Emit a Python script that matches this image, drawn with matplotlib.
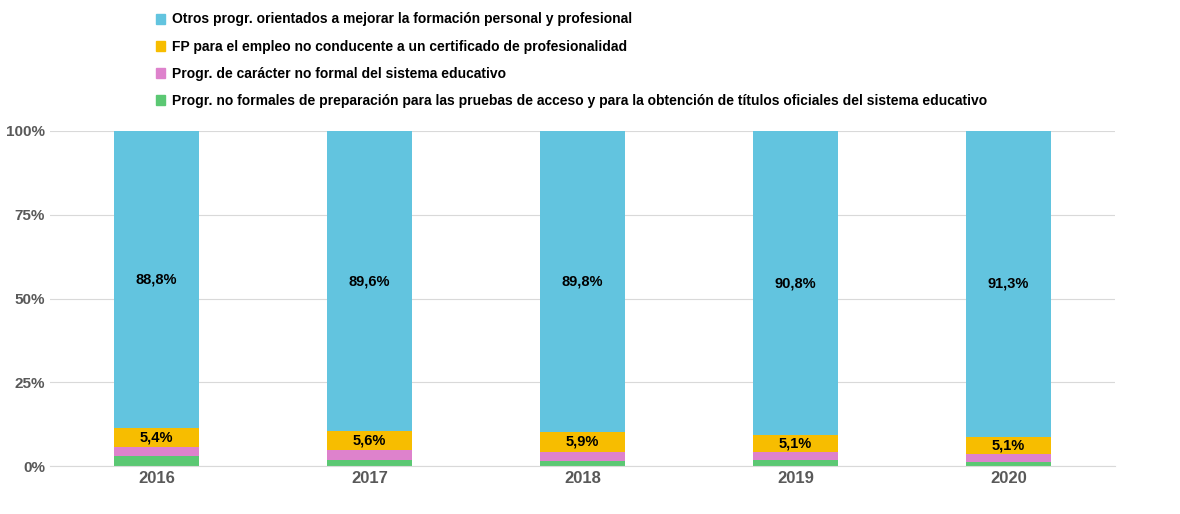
import matplotlib
matplotlib.use("Agg")
import matplotlib.pyplot as plt
import numpy as np
from matplotlib.patches import Patch

plt.rcParams["font.family"] = ["Liberation Sans", "DejaVu Sans"]

years = ["2016", "2017", "2018", "2019", "2020"]
green = [2.9, 1.9, 1.6, 1.8, 1.1]
pink = [2.9, 2.9, 2.7, 2.3, 2.5]
yellow = [5.4, 5.6, 5.9, 5.1, 5.1]
blue = [88.8, 89.6, 89.8, 90.8, 91.3]

names = [
    "Progr. no formales de preparación para las pruebas de acceso y para la obtención de títulos oficiales del sistema educativo",
    "Progr. de carácter no formal del sistema educativo",
    "FP para el empleo no conducente a un certificado de profesionalidad",
    "Otros progr. orientados a mejorar la formación personal y profesional",
]
colors = ["#5bc873", "#de82cc", "#f7bd00", "#62c4df"]

fig = plt.figure(figsize=(11.8, 5.14), dpi=100)
ax = fig.add_axes([50 / 1180, 48 / 514, 1065 / 1180, 335 / 514])
x = np.arange(len(years))
w = 0.4
bottom = np.zeros(len(years))
for vals, c in zip([green, pink, yellow, blue], colors):
    v = np.array(vals)
    ax.bar(x, v, w, bottom=bottom, color=c, zorder=2)
    if c in ("#f7bd00", "#62c4df"):
        for xi, b, vi in zip(x, bottom, v):
            ax.text(xi, b + vi / 2, f"{vi:.1f}%".replace(".", ","), ha="center", va="center",
                    fontsize=10.5, fontweight="bold", zorder=3)
    bottom += v

ax.set_ylim(0, 100)
ax.set_xlim(-0.5, len(years) - 0.5)
ax.set_yticks([0, 25, 50, 75, 100])
ax.set_yticklabels(["0%", "25%", "50%", "75%", "100%"], fontsize=11, fontweight="bold", color="#595959")
ax.set_xticks(x)
ax.set_xticklabels(years, fontsize=12, fontweight="bold", color="#595959")
ax.tick_params(length=0)
ax.grid(axis="y", color="#d9d9d9", linewidth=0.8, zorder=0)
for s in ["top", "right", "left"]:
    ax.spines[s].set_visible(False)
ax.spines["bottom"].set_color("#d9d9d9")

handles = [Patch(color=c, label=n) for c, n in zip(colors, names)][::-1]
fig.legend(handles=handles, loc="upper left", bbox_to_anchor=(143 / 1180, 1.0), frameon=False,
           prop={"size": 10, "weight": "bold"}, handlelength=0.7, handleheight=0.7,
           labelspacing=0.95, handletextpad=0.5)

fig.savefig("out.png", dpi=100)
